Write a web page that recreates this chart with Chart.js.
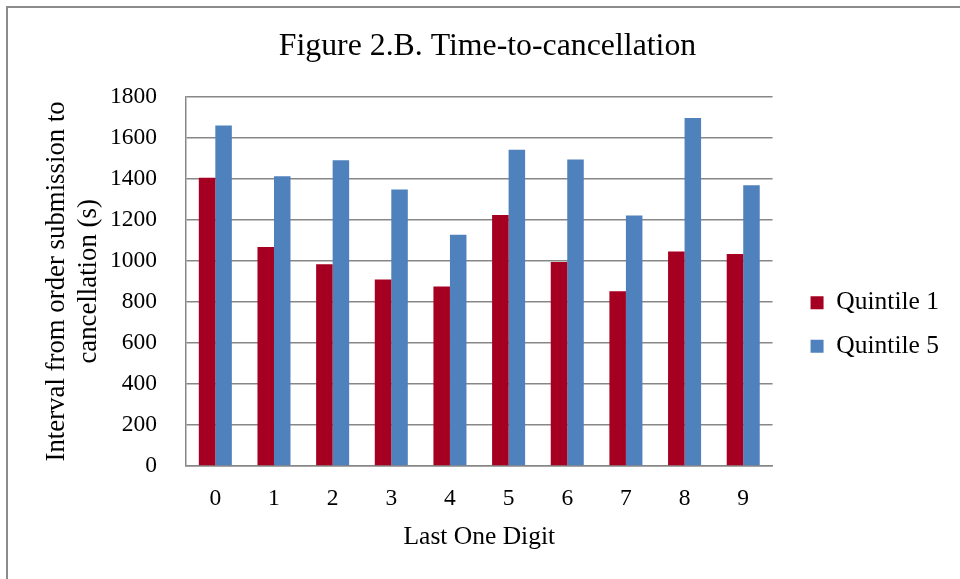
<!DOCTYPE html>
<html>
<head>
<meta charset="utf-8">
<script src="https://cdn.jsdelivr.net/npm/chart.js@4"></script>
<style>
    body { margin: 0; background: #fff; }
    #moldura {
        position: absolute; left: 6px; top: 6px;
        width: 1100px; height: 1100px;
        border: 2px solid #8c8c8c;
    }
    #grafico { position: absolute; left: 0; top: 0; }
</style>
</head>
<body>
<div id="moldura"></div>
<canvas id="grafico" width="960" height="579"></canvas>
<script>
// Dados
const digitos = ['0', '1', '2', '3', '4', '5', '6', '7', '8', '9'];
const quintil1 = [1405, 1067, 983, 909, 875, 1223, 994, 852, 1046, 1034];
const quintil5 = [1660, 1413, 1490, 1348, 1127, 1542, 1494, 1221, 1696, 1369];
const ticksY = [0, 200, 400, 600, 800, 1000, 1200, 1400, 1600, 1800];

const fonte = "'Liberation Serif', 'Times New Roman', serif";
const corGrade = '#878787';

// Ajustes finos de posição: legenda mais à direita/abaixo e título centrado na página
const ajustaLayout = {
    id: 'ajustaLayout',
    afterLayout(chart) {
        const lg = chart.legend;
        if (lg) {
            lg.left += 20; lg.right += 20;
            lg.top += 35; lg.bottom += 35;
        }
        const tt = chart.titleBlock;
        if (tt) {
            tt.left += 23; tt.right += 23;
        }
    }
};

const ctx = document.getElementById('grafico').getContext('2d');

new Chart(ctx, {
    type: 'bar',
    data: {
        labels: digitos,
        datasets: [
            {
                label: 'Quintile 1',
                data: quintil1,
                backgroundColor: '#A50021',
                borderWidth: 0,
                categoryPercentage: 0.563,
                barPercentage: 1
            },
            {
                label: 'Quintile 5',
                data: quintil5,
                backgroundColor: '#4F81BD',
                borderWidth: 0,
                categoryPercentage: 0.563,
                barPercentage: 1
            }
        ]
    },
    options: {
        responsive: false,
        animation: false,
        layout: { padding: { left: 0, right: 31, top: 0, bottom: 0 } },
        plugins: {
            title: {
                display: true,
                text: 'Figure 2.B. Time-to-cancellation',
                color: '#000',
                font: { family: fonte, size: 31.8, weight: 'normal', lineHeight: 1.2 },
                padding: { top: 28, bottom: 30.6 }
            },
            legend: {
                position: 'right',
                labels: {
                    color: '#000',
                    boxWidth: 13,
                    boxHeight: 13,
                    padding: 18,
                    font: { family: fonte, size: 25.5 }
                }
            },
            tooltip: { enabled: false }
        },
        scales: {
            x: {
                grid: { display: false, drawTicks: false, tickLength: 0 },
                border: { color: corGrade, width: 1.5 },
                ticks: {
                    color: '#000',
                    padding: 19,
                    font: { family: fonte, size: 23.5 }
                },
                title: {
                    display: true,
                    text: 'Last One Digit',
                    color: '#000',
                    font: { family: fonte, size: 25.5, lineHeight: 1.2 },
                    padding: { top: 0, bottom: 26 }
                },
                afterFit(scale) { scale.height = 113; }
            },
            y: {
                min: 0,
                max: 1800,
                afterBuildTicks(scale) {
                    scale.ticks = ticksY.map(v => ({ value: v }));
                },
                grid: { color: corGrade, lineWidth: 1.5, drawTicks: false, tickLength: 0 },
                border: { color: corGrade, width: 1.5 },
                ticks: {
                    color: '#000',
                    padding: 29,
                    font: { family: fonte, size: 23.5 },
                    callback: (valor) => String(valor)
                },
                title: {
                    display: true,
                    text: ['Interval from order submission to', 'cancellation (s)'],
                    color: '#000',
                    font: { family: fonte, size: 26.8, lineHeight: 1.2 },
                    padding: { top: 41, bottom: 0 }
                },
                afterFit(scale) { scale.width = 186; }
            }
        }
    },
    plugins: [ajustaLayout]
});
</script>
</body>
</html>
